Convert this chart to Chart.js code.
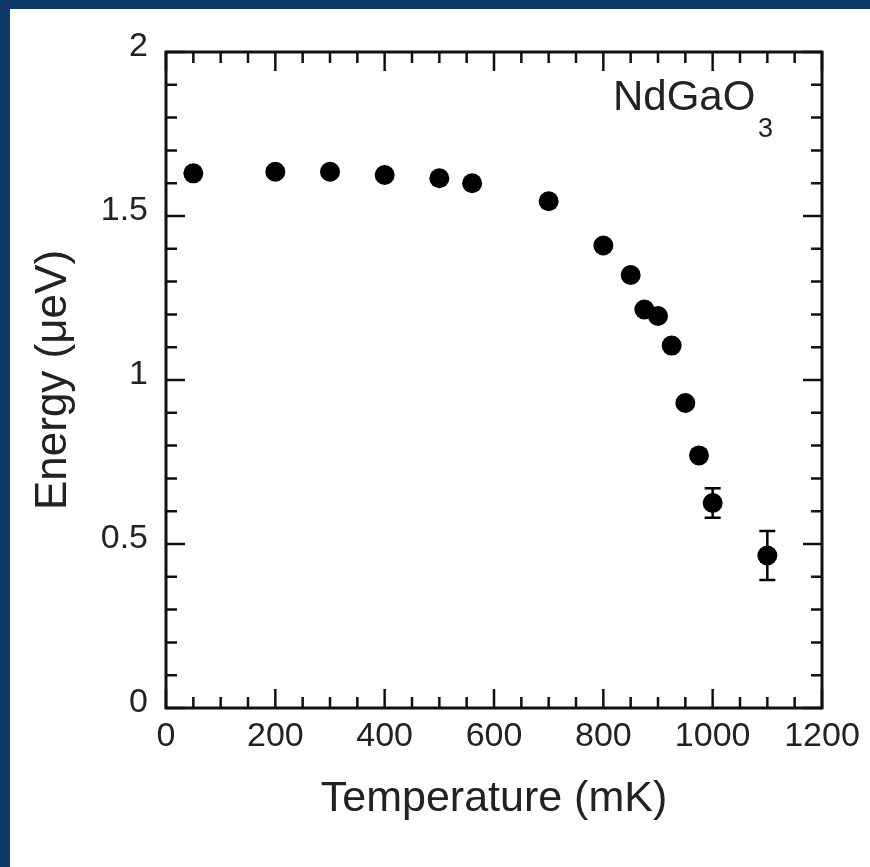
<!DOCTYPE html>
<html>
<head>
<meta charset="utf-8">
<script src="https://cdn.jsdelivr.net/npm/chart.js@4.4.1/dist/chart.umd.min.js"></script>
<style>
    html, body { margin: 0; padding: 0; background: #ffffff; }
    #frame {
        width: 860px;
        height: 858px;
        border-left: 10px solid #0f3a67;
        border-top: 9px solid #0f3a67;
        background: #ffffff;
    }
    canvas { display: block; }
</style>
</head>
<body>
<div id="frame">
    <canvas id="energyChart" width="860" height="858"></canvas>
</div>
<script>
// Temperature dependence of the NdGaO3 excitation energy
const temperatureMK = [50, 200, 300, 400, 500, 560, 700, 800, 850, 875, 900, 925, 950, 975, 1000, 1100];
const energyUeV = [1.63, 1.635, 1.635, 1.625, 1.615, 1.60, 1.545, 1.41, 1.32, 1.215, 1.195, 1.105, 0.93, 0.77, 0.625, 0.465];
const energyErr = [0, 0, 0, 0, 0, 0, 0, 0, 0, 0, 0, 0, 0, 0, 0.045, 0.075];

const xMajorTicks = [0, 200, 400, 600, 800, 1000, 1200];
const yMajorTicks = [0, 0.5, 1, 1.5, 2];
const xMinorStep = 50;
const yMinorStep = 0.1;

const textColor = '#222222';
const fontFamily = '"Liberation Sans", Arial, Helvetica, sans-serif';

// box around the plot with inward ticks on all four sides
const frameTicks = {
    id: 'frameTicks',
    afterDraw(chart) {
        const { ctx, chartArea: a, scales: { x, y } } = chart;
        ctx.save();
        ctx.strokeStyle = '#111111';
        ctx.lineCap = 'butt';

        ctx.lineWidth = 2.5;
        for (let v = 0; v <= 1200; v += xMinorStep) {
            const px = x.getPixelForValue(v);
            const len = xMajorTicks.includes(v) ? 19 : 11;
            ctx.beginPath();
            ctx.moveTo(px, a.bottom);
            ctx.lineTo(px, a.bottom - len);
            ctx.moveTo(px, a.top);
            ctx.lineTo(px, a.top + len);
            ctx.stroke();
        }
        for (let i = 0; i <= 20; i++) {
            const v = Math.round(i * yMinorStep * 10) / 10;
            const py = y.getPixelForValue(v);
            const len = yMajorTicks.includes(v) ? 19 : 11;
            ctx.beginPath();
            ctx.moveTo(a.left, py);
            ctx.lineTo(a.left + len, py);
            ctx.moveTo(a.right, py);
            ctx.lineTo(a.right - len, py);
            ctx.stroke();
        }

        ctx.lineWidth = 3;
        ctx.strokeRect(a.left, a.top, a.right - a.left, a.bottom - a.top);

        // compound label in the upper right corner
        ctx.fillStyle = textColor;
        ctx.textBaseline = 'alphabetic';
        ctx.textAlign = 'left';
        ctx.font = '42px ' + fontFamily;
        ctx.fillText('NdGaO', 603, 101);
        ctx.font = '27px ' + fontFamily;
        ctx.fillText('3', 748, 128);
        ctx.restore();
    }
};

// vertical error bars with caps
const errorBars = {
    id: 'errorBars',
    beforeDatasetsDraw(chart) {
        const { ctx, scales: { x, y } } = chart;
        ctx.save();
        ctx.strokeStyle = '#000000';
        ctx.lineWidth = 2.5;
        energyErr.forEach((err, i) => {
            if (!err) return;
            const px = x.getPixelForValue(temperatureMK[i]);
            const top = y.getPixelForValue(energyUeV[i] + err);
            const bottom = y.getPixelForValue(energyUeV[i] - err);
            ctx.beginPath();
            ctx.moveTo(px, top);
            ctx.lineTo(px, bottom);
            ctx.moveTo(px - 8, top);
            ctx.lineTo(px + 8, top);
            ctx.moveTo(px - 8, bottom);
            ctx.lineTo(px + 8, bottom);
            ctx.stroke();
        });
        ctx.restore();
    }
};

const ctx = document.getElementById('energyChart').getContext('2d');
new Chart(ctx, {
    type: 'scatter',
    data: {
        datasets: [{
            label: 'NdGaO3',
            data: temperatureMK.map((t, i) => ({ x: t, y: energyUeV[i] })),
            backgroundColor: '#000000',
            borderColor: '#000000',
            pointRadius: 10,
            pointHoverRadius: 10,
            borderWidth: 0
        }]
    },
    options: {
        responsive: false,
        animation: false,
        events: [],
        layout: {
            padding: { top: 43, right: 48, left: 0, bottom: 0 }
        },
        plugins: {
            legend: { display: false },
            tooltip: { enabled: false }
        },
        scales: {
            x: {
                type: 'linear',
                min: 0,
                max: 1200,
                afterFit: scale => { scale.height = 159; },
                grid: { display: false, drawTicks: false },
                border: { display: false },
                ticks: {
                    stepSize: 200,
                    padding: 8,
                    color: textColor,
                    font: { family: fontFamily, size: 34 },
                    callback: value => String(value)
                },
                title: {
                    display: true,
                    text: 'Temperature (mK)',
                    color: textColor,
                    font: { family: fontFamily, size: 43 },
                    padding: { bottom: 42 }
                }
            },
            y: {
                type: 'linear',
                min: 0,
                max: 2,
                afterFit: scale => { scale.width = 156; },
                grid: { display: false, drawTicks: false },
                border: { display: false },
                ticks: {
                    stepSize: 0.5,
                    padding: 18,
                    labelOffset: -5,
                    color: textColor,
                    font: { family: fontFamily, size: 34 },
                    callback: value => String(value)
                },
                title: {
                    display: true,
                    text: 'Energy (μeV)',
                    color: textColor,
                    font: { family: fontFamily, size: 44 },
                    padding: { top: 17 }
                }
            }
        }
    },
    plugins: [errorBars, frameTicks]
});
</script>
</body>
</html>
